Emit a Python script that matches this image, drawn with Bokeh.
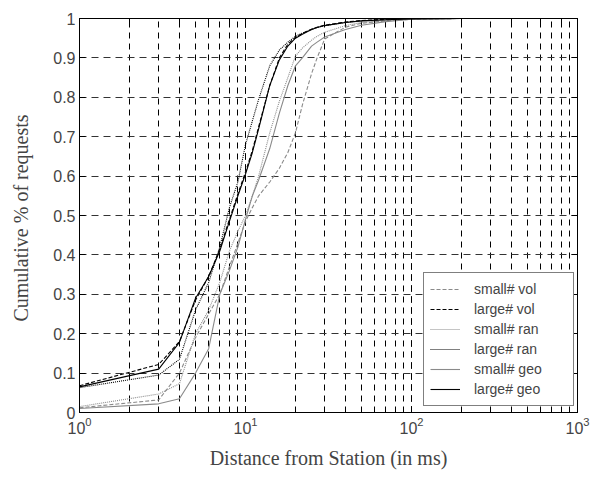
from bokeh.plotting import figure
from bokeh.models import Range1d, FixedTicker, LinearAxis, LogAxis, LogTicker, CustomJSTickFormatter, Legend, LegendItem
from bokeh.embed import file_html
from bokeh.resources import INLINE

# ---- data ----
x_ms = [1, 3, 4, 5, 6, 7, 8, 9, 10, 11, 12, 14, 16, 18, 20, 22, 25, 27, 30, 40, 50, 70, 100, 200, 1000]

small_vol = [0.012, 0.032, 0.10, 0.19, 0.25, 0.30, 0.37, 0.43, 0.485, 0.52, 0.55, 0.585, 0.62, 0.66, 0.71, 0.78, 0.86, 0.90, 0.948, 0.978, 0.988, 0.994, 0.998, 1.0, 1.0]
large_vol = [0.068, 0.122, 0.18, 0.285, 0.345, 0.415, 0.49, 0.555, 0.61, 0.665, 0.725, 0.83, 0.90, 0.935, 0.952, 0.962, 0.973, 0.978, 0.983, 0.991, 0.995, 0.998, 1.0, 1.0, 1.0]
small_ran = [0.015, 0.047, 0.073, 0.20, 0.26, 0.33, 0.41, 0.46, 0.50, 0.55, 0.60, 0.71, 0.79, 0.85, 0.905, 0.925, 0.945, 0.955, 0.965, 0.982, 0.99, 0.995, 0.999, 1.0, 1.0]
large_ran = [0.063, 0.095, 0.135, 0.26, 0.33, 0.42, 0.52, 0.585, 0.68, 0.74, 0.795, 0.88, 0.92, 0.94, 0.955, 0.963, 0.972, 0.977, 0.982, 0.99, 0.994, 0.997, 0.999, 1.0, 1.0]
small_geo = [0.010, 0.022, 0.035, 0.10, 0.162, 0.30, 0.36, 0.42, 0.49, 0.55, 0.59, 0.67, 0.76, 0.83, 0.88, 0.90, 0.93, 0.94, 0.953, 0.972, 0.983, 0.992, 0.998, 1.0, 1.0]
large_geo = [0.065, 0.11, 0.178, 0.29, 0.345, 0.41, 0.485, 0.55, 0.605, 0.66, 0.72, 0.83, 0.895, 0.93, 0.95, 0.96, 0.972, 0.977, 0.982, 0.99, 0.994, 0.997, 0.999, 1.0, 1.0]

series_names = ["small# vol", "large# vol", "small# ran", "large# ran", "small# geo", "large# geo"]
y_ticks = [0, 0.1, 0.2, 0.3, 0.4, 0.5, 0.6, 0.7, 0.8, 0.9, 1]
y_tick_labels = {0: "0", 1: "1"}

GRAY = "#8a8a8a"
styles = [
    (small_vol, GRAY, "4 2"),
    (large_vol, "black", "4 2"),
    (small_ran, GRAY, "1 1"),
    (large_ran, "black", "1 1"),
    (small_geo, GRAY, "solid"),
    (large_geo, "black", "solid"),
]

p = figure(width=595, height=478, x_axis_type="log",
           x_range=Range1d(1, 1000), y_range=Range1d(0, 1),
           output_backend="svg", toolbar_location=None,
           min_border_left=79, min_border_right=18, min_border_top=18, min_border_bottom=66)

p.background_fill_color = "white"
p.border_fill_color = "white"
p.outline_line_color = "black"
p.outline_line_width = 1

# grid
p.xgrid.grid_line_color = "black"
p.xgrid.grid_line_dash = "6 5"
p.xgrid.grid_line_width = 1
p.xgrid.minor_grid_line_color = "black"
p.xgrid.minor_grid_line_dash = "6 5"
p.xgrid.minor_grid_line_width = 1
p.ygrid.grid_line_color = "#333333"
p.ygrid.grid_line_dash = "7 5"
p.ygrid.grid_line_width = 1
p.ygrid.ticker = FixedTicker(ticks=y_ticks)

items = []
for (ys, col, dash), name in zip(styles, series_names):
    r = p.line(x_ms, ys, line_color=col, line_width=1.1, line_dash=dash)
    items.append(LegendItem(label=name, renderers=[r]))

# axes styling
TICK_FONT = "Liberation Sans"
LABEL_FONT = "Liberation Serif"

xa = p.xaxis[0]
xa.axis_label = "Distance from Station (in ms)"
xa.axis_label_text_font = LABEL_FONT
xa.axis_label_text_font_style = "normal"
xa.axis_label_text_font_size = "20px"
xa.axis_label_standoff = 10
xa.major_label_text_font = TICK_FONT
xa.major_label_text_font_size = "16px"
xa.major_label_standoff = 4
xa.major_tick_in = 6
xa.major_tick_out = 0
xa.minor_tick_in = 5
xa.minor_tick_out = 0
xa.axis_line_color = "black"

ya = p.yaxis[0]
ya.ticker = FixedTicker(ticks=y_ticks)
ya.major_label_overrides = y_tick_labels
ya.axis_label = "Cumulative  % of requests"
ya.axis_label_text_font = LABEL_FONT
ya.axis_label_text_font_style = "normal"
ya.axis_label_text_font_size = "20px"
ya.axis_label_standoff = 18
ya.major_label_text_font = TICK_FONT
ya.major_label_text_font_size = "16px"
ya.major_label_standoff = 4
ya.major_tick_in = 6
ya.major_tick_out = 0
ya.minor_tick_line_color = None
ya.axis_line_color = "black"

blank = CustomJSTickFormatter(code="return ''")
top = LogAxis(ticker=LogTicker(), formatter=blank, major_tick_in=6, major_tick_out=0,
              minor_tick_in=5, minor_tick_out=0, major_label_standoff=0,
              major_label_text_font_size="1px", axis_line_color="black")
right = LinearAxis(ticker=FixedTicker(ticks=y_ticks), formatter=blank, major_tick_in=6, major_tick_out=0,
                   minor_tick_line_color=None, major_label_standoff=0,
                   major_label_text_font_size="1px", axis_line_color="black")
p.add_layout(top, "above")
p.add_layout(right, "right")

legend = Legend(items=items, location=(344, 6))
legend.margin = 0
legend.padding = 6
legend.spacing = 0
legend.label_height = 20
legend.glyph_height = 20
legend.glyph_width = 30
legend.label_standoff = 14
legend.label_width = 93
legend.label_text_font = TICK_FONT
legend.label_text_font_size = "14px"
legend.border_line_color = "black"
legend.border_line_width = 1
legend.background_fill_color = "white"
legend.background_fill_alpha = 1
p.add_layout(legend, "center")

open("out.html", "w").write(file_html(p, INLINE))
